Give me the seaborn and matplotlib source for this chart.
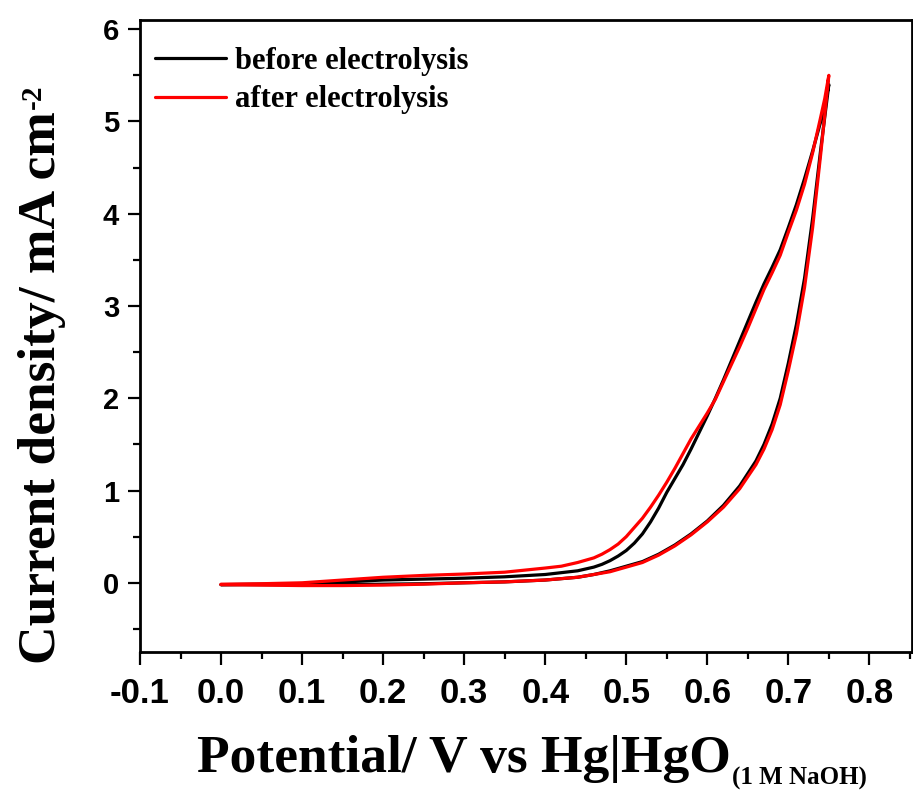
import numpy as np
import pandas as pd
import matplotlib
matplotlib.use("Agg")
import matplotlib.pyplot as plt
from matplotlib.ticker import MultipleLocator
import seaborn as sns

# barrido de ida (rama baja) y de vuelta (rama alta)
E_fwd = [0.00, 0.05, 0.10, 0.15, 0.20, 0.25, 0.30, 0.35, 0.40, 0.44, 0.46, 0.48, 0.50, 0.52,
         0.54, 0.56, 0.58, 0.60, 0.62, 0.64, 0.66, 0.67, 0.68, 0.69, 0.70, 0.71, 0.72, 0.73, 0.74, 0.75]
j_before_fwd = [-0.02, -0.02, -0.02, -0.02, -0.015, -0.01, 0.00, 0.01, 0.03, 0.06, 0.09, 0.13, 0.18, 0.23,
                0.31, 0.41, 0.53, 0.67, 0.84, 1.05, 1.32, 1.50, 1.72, 2.00, 2.38, 2.80, 3.30, 3.95, 4.70, 5.40]
j_after_fwd = [-0.02, -0.025, -0.03, -0.03, -0.025, -0.015, 0.00, 0.01, 0.03, 0.06, 0.09, 0.12, 0.17, 0.22,
               0.30, 0.40, 0.52, 0.66, 0.82, 1.02, 1.28, 1.45, 1.66, 1.93, 2.30, 2.70, 3.20, 3.85, 4.65, 5.50]

E_rev = [0.75, 0.745, 0.74, 0.73, 0.72, 0.71, 0.70, 0.69, 0.68, 0.67, 0.66, 0.65, 0.64, 0.63, 0.62,
         0.61, 0.60, 0.59, 0.58, 0.57, 0.56, 0.55, 0.54, 0.53, 0.52, 0.51, 0.50, 0.49, 0.48, 0.47,
         0.46, 0.44, 0.42, 0.40, 0.35, 0.30, 0.25, 0.20, 0.15, 0.10, 0.05, 0.00]
j_before_rev = [5.40, 5.18, 5.00, 4.68, 4.38, 4.10, 3.85, 3.61, 3.42, 3.24, 3.04, 2.83, 2.62, 2.41, 2.20,
                2.00, 1.81, 1.63, 1.45, 1.28, 1.13, 0.98, 0.81, 0.66, 0.53, 0.43, 0.35, 0.29, 0.24, 0.20,
                0.17, 0.13, 0.11, 0.09, 0.065, 0.05, 0.04, 0.03, 0.01, -0.01, -0.015, -0.02]
j_after_rev = [5.50, 5.25, 5.05, 4.66, 4.32, 4.04, 3.80, 3.55, 3.36, 3.18, 2.97, 2.76, 2.56, 2.37, 2.18,
               1.99, 1.84, 1.70, 1.56, 1.40, 1.24, 1.09, 0.95, 0.82, 0.70, 0.60, 0.50, 0.42, 0.36, 0.31,
               0.27, 0.22, 0.18, 0.16, 0.115, 0.095, 0.08, 0.06, 0.03, 0.00, -0.01, -0.015]

labels = ["before electrolysis", "after electrolysis"]
colores = ["black", "red"]

df = pd.concat([
    pd.DataFrame({"E": E_fwd + E_rev, "j": j_before_fwd + j_before_rev, "serie": labels[0]}),
    pd.DataFrame({"E": E_fwd + E_rev, "j": j_after_fwd + j_after_rev, "serie": labels[1]}),
], ignore_index=True)

sns.set_theme(style="ticks")
plt.rcParams["font.family"] = ["Liberation Sans", "DejaVu Sans"]
for k in ["text.color", "axes.labelcolor", "xtick.color", "ytick.color", "axes.edgecolor"]:
    plt.rcParams[k] = "black"

fig = plt.figure(figsize=(9.13, 7.93), dpi=100)
ax = fig.add_axes([140 / 913, 1 - 652 / 793, (911.5 - 140) / 913, (652 - 20) / 793])

sns.lineplot(data=df, x="E", y="j", hue="serie", hue_order=labels, palette=colores,
             sort=False, estimator=None, linewidth=2.3, ax=ax)

ax.set_xlim(-0.1, 0.852)
ax.set_ylim(-0.75, 6.1)
ax.xaxis.set_minor_locator(MultipleLocator(0.05))
ax.yaxis.set_major_locator(MultipleLocator(1))
ax.yaxis.set_minor_locator(MultipleLocator(0.5))
xt = np.round(np.arange(-0.1, 0.81, 0.1), 1)
ax.set_xticks(xt)
ax.set_xticklabels([f"{v:.1f}" for v in xt])
ax.set_xlabel("")
ax.set_ylabel("")

for s in ax.spines.values():
    s.set_linewidth(2)
ax.tick_params(which="major", direction="out", length=9, width=1.6)
ax.tick_params(which="minor", direction="out", length=5, width=1.6)
ax.tick_params(axis="x", which="major", pad=9)
ax.tick_params(axis="y", which="major", pad=6)
for t in ax.get_xticklabels():
    t.set_fontsize(25)
    t.set_fontweight("bold")
for t in ax.get_yticklabels():
    t.set_fontsize(21)
    t.set_fontweight("bold")

# titulo eje x con subindice
serif = {"family": "Liberation Serif", "weight": "bold"}
xl = fig.text(197 / 913, 1 - 772 / 793, "Potential/ V vs Hg|HgO", ha="left", va="baseline",
              fontsize=38.5, **serif)
ax.annotate("(1 M NaOH)", xy=(1.0, 0.0), xycoords=xl, xytext=(1, -1), textcoords="offset points",
            ha="left", va="baseline", fontsize=18, **serif)

# titulo eje y con superindice
yl = fig.text(42 / 913, 1 - 388 / 793, "Current density/ mA cm", rotation=90, ha="center",
              va="center", fontsize=38.5, **serif)
ax.annotate("-2", xy=(0.0, 1.0), xycoords=yl, xytext=(1, 2), textcoords="offset points",
            rotation=90, ha="left", va="bottom", fontsize=21, **serif)

ax.legend(loc="upper left", bbox_to_anchor=(0.02, 0.957), frameon=False,
          prop={"family": "Liberation Serif", "weight": "bold", "size": 22},
          handlelength=2.3, handletextpad=0.3, labelspacing=0.3,
          borderpad=0, borderaxespad=0)

fig.savefig("out.png", dpi=100)
